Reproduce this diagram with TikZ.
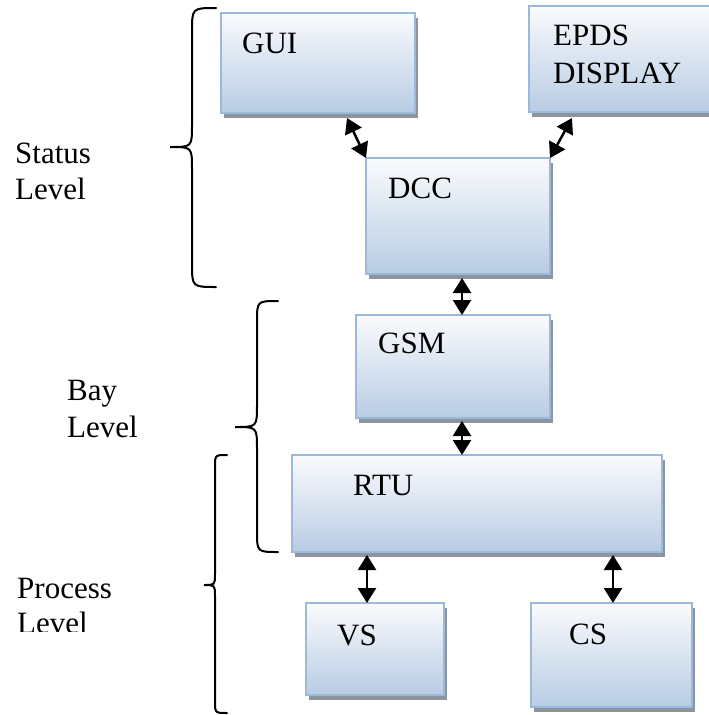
\documentclass[tikz,border=0pt]{standalone}
\usepackage{fontspec}
\setmainfont{Liberation Serif}
\usetikzlibrary{arrows.meta,shadows,calc}
\definecolor{boxtop}{HTML}{FAFBFD}
\definecolor{boxbot}{HTML}{B8CCE4}
\definecolor{boxline}{HTML}{9CB8DA}
\definecolor{shadowgray}{HTML}{8E949C}
\newcommand\lvlbrace[6]{% xend, xline, xtip, ytop, ytip, ybot
  \draw[bracestyle] (#1,#4) .. controls (#2,#4) .. ($(#2,#4)+(0,{#1-#2})$)
    -- ($(#2,#5)-(0,{#2-#3})$) .. controls (#2,#5) .. (#3,#5)
    .. controls (#2,#5) .. ($(#2,#5)+(0,{#2-#3})$)
    -- ($(#2,#6)-(0,{#1-#2})$) .. controls (#2,#6) .. (#1,#6);}
\begin{document}
\begin{tikzpicture}[x=1pt,y=-1pt,
  lvlbox/.style={rectangle, draw=boxline, line width=2pt, top color=boxtop, bottom color=boxbot,
    inner sep=0pt, outer sep=0pt,
    general shadow={shadow xshift=3pt, shadow yshift=-5pt, fill=shadowgray}},
  lbl/.style={font=\fontsize{31}{36}\selectfont, inner sep=0pt, anchor=base west},
  link/.style={line width=2.5pt, {Triangle[width=18pt,length=15pt]}-{Triangle[width=18pt,length=15pt]}},
  bracestyle/.style={line width=2pt, line cap=round}]
\useasboundingbox (0,0) rectangle (709,715);
\clip (0,0) rectangle (709,715);

% boxes
\node[lvlbox, minimum width=194pt, minimum height=100pt] (gui) at (318,63) {};
\node[lvlbox, minimum width=201pt, minimum height=106pt] (epds) at (629.5,59) {};
\node[lvlbox, minimum width=184pt, minimum height=116pt] (dcc) at (458,216) {};
\node[lvlbox, minimum width=194pt, minimum height=103pt] (gsm) at (453,366.5) {};
\node[lvlbox, minimum width=370pt, minimum height=97pt] (rtu) at (477,503.5) {};
\node[lvlbox, minimum width=138pt, minimum height=92pt] (vs) at (375,649) {};
\node[lvlbox, minimum width=161pt, minimum height=104pt] (cs) at (611.5,655) {};

% box texts
\node[lbl] (gui-t) at (242,53) {GUI};
\node[lbl] (epds-t1) at (553,45) {EPDS};
\node[lbl] (epds-t2) at (553,83) {DISPLAY};
\node[lbl] (dcc-t) at (388,198) {DCC};
\node[lbl] (gsm-t) at (378,353) {GSM};
\node[lbl] (rtu-t) at (353,495) {RTU};
\node[lbl] (vs-t) at (337,645) {VS};
\node[lbl] (cs-t) at (569,644) {CS};

% level labels
\node[lbl] (st1) at (15,163) {Status};
\node[lbl] (st2) at (15,199) {Level};
\node[lbl] (bay1) at (67,400) {Bay};
\node[lbl] (bay2) at (67,437) {Level};
\node[lbl] (pr1) at (17,598) {Process};
\begin{scope}
  \clip (0,600) rectangle (150,631);
  \node[lbl] (pr2) at (17,633) {Level};
\end{scope}

% connectors
\coordinate (xa) at (462,0);
\coordinate (xb) at (367,0);
\coordinate (xc) at (613,0);
\draw[link] ([xshift=126pt,yshift=-5pt]gui.south west) -- (dcc.north west);
\draw[link] ([xshift=43pt,yshift=-6pt]epds.south west) -- (dcc.north east);
\draw[link] ([yshift=-4pt]dcc.south -| xa) -- (gsm.north -| xa);
\draw[link] ([yshift=-3pt]gsm.south -| xa) -- (rtu.north -| xa);
\draw[link] ([yshift=-3pt]rtu.south -| xb) -- (vs.north -| xb);
\draw[link] ([yshift=-3pt]rtu.south -| xc) -- (cs.north -| xc);

% braces
\lvlbrace{216}{192}{170}{8}{147}{287}
\lvlbrace{278}{257}{235}{301}{427}{552}
\lvlbrace{227}{215}{204}{455}{585}{713}
\end{tikzpicture}
\end{document}
